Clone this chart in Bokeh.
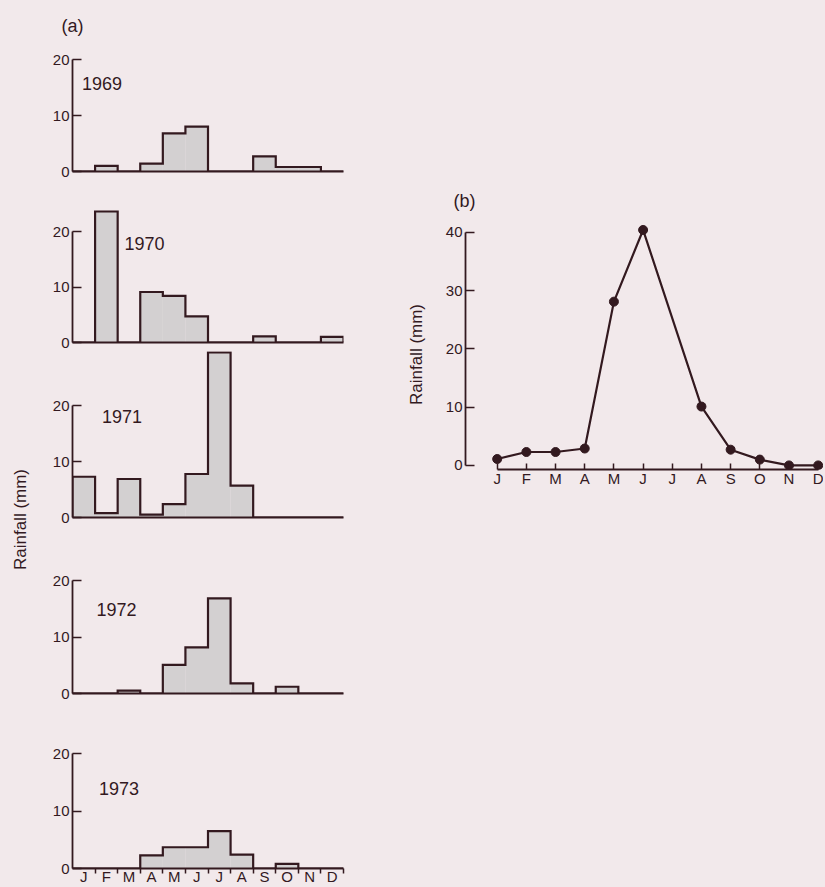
import math
import re
from bokeh.plotting import figure
from bokeh.models import Range1d, FixedTicker, Label, Spacer, ColumnDataSource
from bokeh.layouts import row, column
from bokeh.embed import file_html
from bokeh.resources import INLINE

# ---------------- data ----------------
months = ["J", "F", "M", "A", "M", "J", "J", "A", "S", "O", "N", "D"]
years = ["1969", "1970", "1971", "1972", "1973"]
r1969 = [0, 1.0, 0, 1.4, 6.8, 8.0, 0, 0, 2.7, 0.8, 0.8, 0]
r1970 = [0, 23.6, 0, 9.1, 8.4, 4.7, 0, 0, 1.1, 0, 0, 1.0]
r1971 = [7.3, 0.8, 6.9, 0.5, 2.4, 7.8, 29.6, 5.7, 0, 0, 0, 0]
r1972 = [0, 0, 0.5, 0, 5.1, 8.2, 16.9, 1.8, 0, 1.2, 0, 0]
r1973 = [0, 0, 0, 2.3, 3.7, 3.7, 6.5, 2.4, 0, 0.8, 0, 0]
yearly = [r1969, r1970, r1971, r1972, r1973]
a_ticks = [0, 10, 20]

b_rain = [1.1, 2.3, 2.3, 2.9, 28.1, 40.4, None, 10.1, 2.7, 1.0, 0, 0]
b_ticks = [0, 10, 20, 30, 40]

# ---------------- style / layout ----------------
BG = "#f2e9eb"
INK = "#33191f"
BAR = "#d3d0d1"
FONT = "Liberation Sans"
TOTAL_H = 887

STRIP_A_W = 38      # strip holding the shared y label of (a)
LEFT_W = 322        # width of each (a) panel figure
STRIP_B_W = 70      # strip holding the y label of (b)
FRAME_W = 280
TOP_GAP = 5
tops = [5, 190, 351, 569, 730]
border_tops = [30, 0, 0, 0, 0]
zeros = [171, 342, 517, 693, 868]
bottoms = [190, 351, 569, 730, TOTAL_H]
px_per_mm = [5.6, 5.55, 5.58, 5.63, 5.75]
frame_lefts = [63, 66, 68, 69, 72]
year_pos = [(0.42, 15.8), (2.3, 17.9), (1.31, 18.1), (1.06, 14.9), (1.17, 13.9)]


def style_common(p):
    p.grid.visible = False
    p.background_fill_color = BG
    p.border_fill_color = BG
    p.outline_line_color = None


def style_title(p, text, offset):
    p.title.text = text
    p.title.align = "left"
    p.title.offset = offset
    p.title.standoff = 0
    p.title.text_font = FONT
    p.title.text_font_size = "18px"
    p.title.text_font_style = "normal"
    p.title.text_color = INK


def strip_fig(width, text, cx, cy):
    s = figure(width=width, height=TOTAL_H, x_range=Range1d(0, width),
               y_range=Range1d(0, TOTAL_H), output_backend="svg",
               toolbar_location=None, min_border=0)
    style_common(s)
    s.axis.visible = False
    s.add_layout(Label(x=cx, y=TOTAL_H - cy, text=text, text_font=FONT,
                       text_font_size="17px", text_color=INK, angle=math.pi / 2,
                       text_align="center", text_baseline="middle"))
    return s


strip_a = strip_fig(STRIP_A_W, "Rainfall (mm)", 20, 519)

panels = []
for k, vals in enumerate(yearly):
    top, zero, bot = tops[k], zeros[k], bottoms[k]
    PX = px_per_mm[k]
    ftop = top + border_tops[k]
    fl = frame_lefts[k] - STRIP_A_W
    p = figure(width=LEFT_W, height=bot - top,
               x_range=Range1d(0, 12), y_range=Range1d(0, (zero - ftop) / PX),
               output_backend="svg", toolbar_location=None,
               min_border_left=fl, min_border_right=LEFT_W - fl - FRAME_W,
               min_border_top=border_tops[k], min_border_bottom=bot - zero)
    style_common(p)
    src = ColumnDataSource(dict(x=[i + 0.5 for i in range(12)], top=vals))
    p.vbar(x="x", top="top", width=1, bottom=0, source=src,
           fill_color=BAR, line_alpha=0)
    xs, ys = [0], [0]
    for i, v in enumerate(vals):
        xs += [i, i + 1]
        ys += [v, v]
    xs.append(12)
    ys.append(0)
    p.line(xs, ys, line_color=INK, line_width=2.2, line_join="miter")

    ya = p.yaxis[0]
    ya.ticker = FixedTicker(ticks=a_ticks)
    ya.bounds = (0, 20)
    ya.major_tick_in = 9
    ya.major_tick_out = 0
    ya.minor_tick_line_color = None
    ya.axis_line_color = INK
    ya.axis_line_width = 1.8
    ya.major_tick_line_color = INK
    ya.major_tick_line_width = 1.5
    ya.major_label_text_color = INK
    ya.major_label_text_font = FONT
    ya.major_label_text_font_size = "15px"
    ya.major_label_standoff = 3

    xa = p.xaxis[0]
    xa.axis_line_color = INK
    xa.axis_line_width = 1.8
    xa.major_tick_in = 0
    xa.major_tick_out = 0
    if k < 4:
        xa.ticker = FixedTicker(ticks=[])
        xa.minor_tick_line_color = None
        xa.major_label_standoff = 0
    else:
        xa.ticker = FixedTicker(ticks=[i + 0.5 for i in range(12)],
                                minor_ticks=list(range(1, 13)))
        xa.major_label_overrides = {i + 0.5: m for i, m in enumerate(months)}
        xa.minor_tick_in = 0
        xa.minor_tick_out = 5
        xa.minor_tick_line_color = INK
        xa.minor_tick_line_width = 1.5
        xa.major_label_text_color = INK
        xa.major_label_text_font = FONT
        xa.major_label_text_font_size = "15px"
        xa.major_label_standoff = -6

    yx, yy = year_pos[k]
    p.add_layout(Label(x=yx, y=yy, text=years[k], text_font=FONT,
                       text_font_size="18px", text_color=INK,
                       text_align="left", text_baseline="middle"))
    if k == 0:
        style_title(p, "(a)", 52 - frame_lefts[0])
    panels.append(p)

# ---------------- panel (b) ----------------
B_LEFT = STRIP_A_W + LEFT_W + STRIP_B_W   # page x of canvas (430)
strip_b = strip_fig(STRIP_B_W, "Rainfall (mm)", 416 - (STRIP_A_W + LEFT_W), 354)

BPX_X = 29.18
BPX_Y = 5.83
B_FRAME_L = 465
B_J = 496.7
B_FRAME_W = 358
B_TOP = 180
B_BORDER_TOP = 30
B_ZERO = 465
B_Y0 = -0.7
B_BOTTOM_BORDER = 25

b_ftop = B_TOP + B_BORDER_TOP
b_frame_h = (B_ZERO - b_ftop) - B_Y0 * BPX_Y
x0 = (B_FRAME_L - B_J) / BPX_X
y1 = B_Y0 + b_frame_h / BPX_Y
pb = figure(width=(B_FRAME_L - B_LEFT) + B_FRAME_W,
            height=int(round(B_BORDER_TOP + b_frame_h + B_BOTTOM_BORDER)),
            x_range=Range1d(x0, x0 + B_FRAME_W / BPX_X), y_range=Range1d(B_Y0, y1),
            output_backend="svg", toolbar_location=None,
            min_border_left=B_FRAME_L - B_LEFT, min_border_right=0,
            min_border_top=B_BORDER_TOP, min_border_bottom=B_BOTTOM_BORDER)
style_common(pb)
style_title(pb, "(b)", 453 - B_FRAME_L)
bx = [i for i, v in enumerate(b_rain) if v is not None]
by = [v for v in b_rain if v is not None]
bsrc = ColumnDataSource(dict(x=bx, y=by))
pb.line("x", "y", source=bsrc, line_color=INK, line_width=2.2)
pb.scatter("x", "y", source=bsrc, size=9, fill_color=INK, line_color=INK)

ya = pb.yaxis[0]
ya.ticker = FixedTicker(ticks=b_ticks)
ya.bounds = (0, 40)
ya.major_tick_in = 9
ya.major_tick_out = 0
ya.minor_tick_line_color = None
ya.axis_line_color = INK
ya.axis_line_width = 1.8
ya.major_tick_line_color = INK
ya.major_tick_line_width = 1.5
ya.major_label_text_color = INK
ya.major_label_text_font = FONT
ya.major_label_text_font_size = "15px"
ya.major_label_standoff = 3

xa = pb.xaxis[0]
xa.ticker = FixedTicker(ticks=list(range(12)))
xa.major_label_overrides = {i: m for i, m in enumerate(months)}
xa.bounds = (0, 11)
xa.axis_line_color = INK
xa.axis_line_width = 1.8
xa.major_tick_in = 6
xa.major_tick_out = 0
xa.major_tick_line_color = INK
xa.major_tick_line_width = 1.5
xa.minor_tick_line_color = None
xa.major_label_text_color = INK
xa.major_label_text_font = FONT
xa.major_label_text_font_size = "15px"
xa.major_label_standoff = 0

left = column(Spacer(width=LEFT_W, height=TOP_GAP), *panels, spacing=0)
right = column(Spacer(width=pb.width, height=B_TOP), pb, spacing=0)
layout = row(strip_a, left, strip_b, right, spacing=0)

html = file_html(layout, INLINE)
html = re.sub(r"<body([^>]*)>", r'<body\1 style="background-color:%s;">' % BG, html, count=1)
html = html.replace("</head>", "<style>html, body { background-color: %s; }</style></head>" % BG, 1)
open("out.html", "w").write(html)
